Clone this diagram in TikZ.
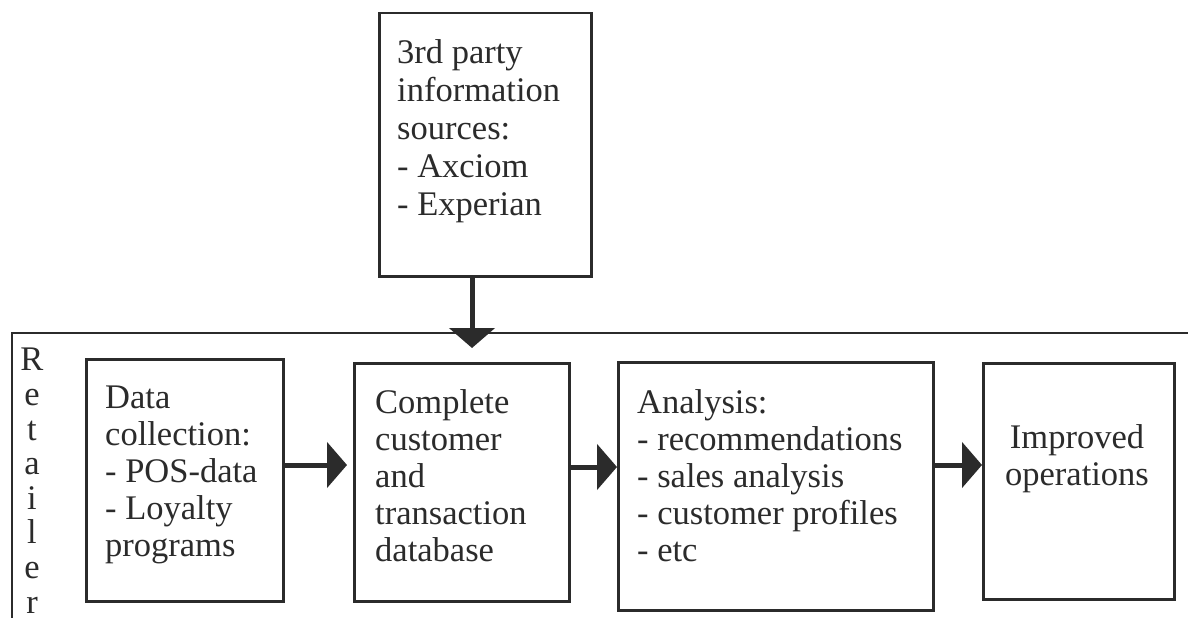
\documentclass[tikz,border=0pt]{standalone}
\usepackage{fontspec}
\setmainfont{Liberation Serif}
\usetikzlibrary{arrows.meta}
\definecolor{ink}{HTML}{2B2B2B}
\begin{document}
\begin{tikzpicture}[x=1pt,y=-1pt,
  box/.style={draw=ink,line width=2.5pt,inner sep=0pt,anchor=north west},
  txt/.style={anchor=base west,align=left,inner sep=0pt,text=ink,font=\fontsize{34.5}{37}\selectfont},
  flow/.style={draw=ink,line width=5pt,-{Triangle[width=45pt,length=20pt]}},
  frame/.style={draw=ink,line width=2.5pt}]
\useasboundingbox[fill=white] (0,0) rectangle (1188,618);
% retailer frame (cut off by the page)
\draw[frame] (12,630) |- (1200,333);
\node[txt,align=center,anchor=base,font=\fontsize{34.5}{34.6}\selectfont] (ret) at (32,613) {R\\e\\t\\a\\i\\l\\e\\r};
% boxes
\node[box,minimum width=212pt,minimum height=263pt] (top) at (378,12) {};
\node[box,minimum width=197pt,minimum height=242pt] (data) at (85,358) {};
\node[box,minimum width=215pt,minimum height=238pt] (comp) at (353,362) {};
\node[box,minimum width=315pt,minimum height=248pt] (anal) at (617,361) {};
\node[box,minimum width=191pt,minimum height=236pt] (impr) at (982,362) {};
% texts (anchor = baseline of the last line)
\node[txt,font=\fontsize{34.5}{38}\selectfont] (ttop) at (397,215) {3rd party\\information\\sources:\\- Axciom\\- Experian};
\node[txt] (tdata) at (105,556) {Data\\collection:\\- POS-data\\- Loyalty\\programs};
\node[txt] (tcomp) at (375,561) {Complete\\customer\\and\\transaction\\database};
\node[txt] (tanal) at (637,561) {Analysis:\\- recommendations\\- sales analysis\\- customer profiles\\- etc};
\node[txt,align=center,anchor=base] (timpr) at (1077,485) {Improved\\operations};
% connectors
\coordinate (tiptop) at (472,348);
\coordinate (ya) at (0,465);
\coordinate (yb) at (0,467);
\draw[flow] (top.south -| tiptop) -- (tiptop);
\draw[flow,shorten >=6pt] (data.east |- ya) -- (comp.west |- ya);
\draw[flow] (comp.east |- yb) -- (anal.west |- yb);
\draw[flow] (anal.east |- ya) -- (impr.west |- ya);
\end{tikzpicture}
\end{document}
